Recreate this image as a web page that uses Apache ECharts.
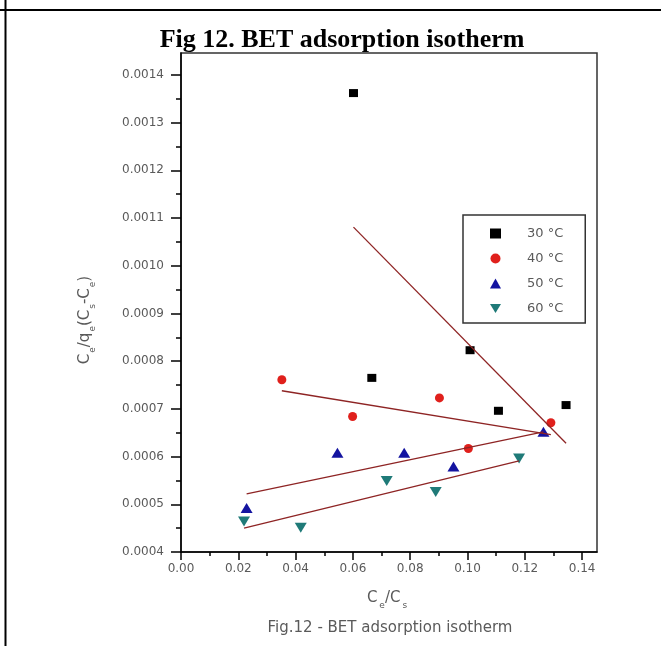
<!DOCTYPE html>
<html>
<head>
<meta charset="utf-8">
<title>Fig 12. BET adsorption isotherm</title>
<script src="https://cdn.jsdelivr.net/npm/echarts@6/dist/echarts.min.js"></script>
<style>
  html, body { margin: 0; padding: 0; background: #fff; }
  #chart { width: 661px; height: 646px; }
</style>
</head>
<body>
<div id="chart"></div>
<script>
// Series names (temperatures)
const seriesNames = ['30 °C', '40 °C', '50 °C', '60 °C'];

// Ce/Cs values for each temperature
const x30 = [0.0602, 0.0666, 0.1009, 0.1108, 0.1344];
const x40 = [0.0352, 0.0599, 0.0902, 0.1003, 0.1291];
const x50 = [0.0229, 0.0546, 0.0779, 0.0951, 0.1265];
const x60 = [0.0220, 0.0418, 0.0718, 0.0889, 0.1180];

// Ce/qe(Cs-Ce) values for each temperature
const y30 = [0.001362, 0.000765, 0.000823, 0.000696, 0.000708];
const y40 = [0.000761, 0.000684, 0.000723, 0.000617, 0.000671];
const y50 = [0.000492, 0.000608, 0.000608, 0.000579, 0.000652];
const y60 = [0.000464, 0.000451, 0.000549, 0.000526, 0.000596];

// Linear BET fit lines: [start, end] as [x, y]
const fit30 = [[0.0602, 0.001081], [0.1344, 0.000628]];
const fit40 = [[0.0352, 0.000738], [0.1291, 0.000646]];
const fit50 = [[0.0229, 0.000522], [0.1265, 0.000652]];
const fit60 = [[0.0220, 0.000450], [0.1180, 0.000591]];

// Axis tick positions
const xMajorTicks = [0, 0.02, 0.04, 0.06, 0.08, 0.10, 0.12, 0.14];
const xMinorTicks = [0.01, 0.03, 0.05, 0.07, 0.09, 0.11, 0.13];
const yMajorTicks = [0.0004, 0.0005, 0.0006, 0.0007, 0.0008, 0.0009, 0.0010, 0.0011, 0.0012, 0.0013, 0.0014];
const yMinorTicks = [0.00045, 0.00055, 0.00065, 0.00075, 0.00085, 0.00095, 0.00105, 0.00115, 0.00125, 0.00135];

const X_MIN = 0, X_MAX = 0.1452;
const Y_MIN = 0.0004, Y_MAX = 0.001446;

function pairs(xs, ys) { return xs.map((v, i) => [v, ys[i]]); }

const labelFont = { color: '#5a5a5a', fontSize: 12, fontFamily: 'DejaVu Sans' };
const downTriangle = 'path://M0,0L12,0L6,10Z';

const chart = echarts.init(document.getElementById('chart'), null, { renderer: 'canvas' });

const markerStyles = [
  { symbol: 'rect', symbolSize: [9, 8], color: '#000000', rotate: 0 },
  { symbol: 'circle', symbolSize: 9, color: '#e0201c', rotate: 0 },
  { symbol: 'triangle', symbolSize: [12, 10], color: '#1414a0', rotate: 0 },
  { symbol: downTriangle, symbolSize: [12, 10], color: '#1f7a78', rotate: 0 }
];
const pointSets = [pairs(x30, y30), pairs(x40, y40), pairs(x50, y50), pairs(x60, y60)];
const fitSets = [fit30, fit40, fit50, fit60];

const scatterSeries = seriesNames.map((name, i) => ({
  name: name,
  type: 'scatter',
  xAxisIndex: 0,
  yAxisIndex: 0,
  symbol: markerStyles[i].symbol,
  symbolSize: markerStyles[i].symbolSize,
  symbolRotate: markerStyles[i].rotate,
  itemStyle: { color: markerStyles[i].color, opacity: 1 },
  data: pointSets[i],
  z: 3
}));

const fitSeries = fitSets.map((d, i) => ({
  name: 'fit ' + seriesNames[i],
  type: 'line',
  xAxisIndex: 0,
  yAxisIndex: 0,
  data: d,
  showSymbol: false,
  symbol: 'none',
  lineStyle: { color: '#8e2424', width: 1.3 },
  silent: true,
  z: 4
}));

const option = {
  backgroundColor: '#ffffff',
  animation: false,
  title: [
    {
      text: 'Fig 12. BET adsorption isotherm',
      left: 337, top: 22, textAlign: 'center',
      textStyle: { fontFamily: 'Liberation Serif', fontWeight: 'bold', fontSize: 26, color: '#000' }
    },
    {
      text: 'Fig.12 - BET adsorption isotherm',
      left: 385, top: 616, textAlign: 'center',
      textStyle: { fontFamily: 'DejaVu Sans', fontWeight: 'normal', fontSize: 15, color: '#5a5a5a' }
    }
  ],
  grid: {
    left: 181, top: 53, right: 64, bottom: 94,
    show: true, borderColor: '#333', borderWidth: 1.5, backgroundColor: 'transparent'
  },
  legend: {
    data: [
      { name: seriesNames[0] },
      { name: seriesNames[1] },
      { name: seriesNames[2] },
      { name: seriesNames[3], icon: downTriangle }
    ],
    orient: 'vertical',
    left: 463, top: 215,
    itemWidth: 11, itemHeight: 10, itemGap: 12,
    padding: [12, 22, 8, 27],
    borderColor: '#333', borderWidth: 1.5,
    textStyle: { color: '#5a5a5a', fontSize: 13, fontFamily: 'DejaVu Sans', padding: [0, 0, 0, 21] },
    selectedMode: false
  },
  xAxis: [
    {
      type: 'value', min: X_MIN, max: X_MAX, interval: 0.02,
      axisLine: { show: true, onZero: false, lineStyle: { color: '#000', width: 1.5 } },
      axisTick: { show: true, length: 8, customValues: xMajorTicks, lineStyle: { color: '#000', width: 1.5 } },
      axisLabel: { customValues: xMajorTicks, margin: 11, formatter: v => v.toFixed(2), ...labelFont },
      splitLine: { show: false }
    },
    {
      type: 'value', min: X_MIN, max: X_MAX, position: 'bottom', gridIndex: 0,
      axisLine: { show: false },
      axisTick: { show: true, length: 4, customValues: xMinorTicks, lineStyle: { color: '#000', width: 1.5 } },
      axisLabel: { show: false },
      splitLine: { show: false }
    }
  ],
  yAxis: [
    {
      type: 'value', min: Y_MIN, max: Y_MAX, interval: 0.0001,
      axisLine: { show: true, onZero: false, lineStyle: { color: '#000', width: 1.5 } },
      axisTick: { show: true, length: 10, customValues: yMajorTicks, lineStyle: { color: '#000', width: 1.5 } },
      axisLabel: { customValues: yMajorTicks, margin: 17, formatter: v => v.toFixed(4), ...labelFont },
      splitLine: { show: false }
    },
    {
      type: 'value', min: Y_MIN, max: Y_MAX, position: 'left', gridIndex: 0,
      axisLine: { show: false },
      axisTick: { show: true, length: 5, customValues: yMinorTicks, lineStyle: { color: '#000', width: 1.5 } },
      axisLabel: { show: false },
      splitLine: { show: false }
    }
  ],
  graphic: [
    // enclosing table rules
    { type: 'line', shape: { x1: 5.5, y1: 0, x2: 5.5, y2: 646 }, style: { stroke: '#000', lineWidth: 2 } },
    { type: 'line', shape: { x1: 0, y1: 10, x2: 661, y2: 10 }, style: { stroke: '#000', lineWidth: 2 } },
    // x-axis title
    {
      type: 'text', x: 387, y: 596,
      style: {
        text: '{m|C}{s|e}{m|/C}{s|s}',
        align: 'center', verticalAlign: 'middle',
        rich: {
          m: { fontSize: 15, fontFamily: 'DejaVu Sans', fill: '#5a5a5a', lineHeight: 20, verticalAlign: 'bottom' },
          s: { fontSize: 9, fontFamily: 'DejaVu Sans', fill: '#5a5a5a', lineHeight: 20, verticalAlign: 'bottom', padding: [0, 0, -4, 2] }
        }
      }
    },
    // y-axis title
    {
      type: 'text', x: 83, y: 320, rotation: Math.PI / 2,
      style: {
        text: '{m|C}{s|e}{m|/q}{s|e}{m|(C}{s|s}{m|-C}{s|e}{m|)}',
        align: 'center', verticalAlign: 'middle',
        rich: {
          m: { fontSize: 15, fontFamily: 'DejaVu Sans', fill: '#5a5a5a', lineHeight: 20, verticalAlign: 'bottom' },
          s: { fontSize: 9, fontFamily: 'DejaVu Sans', fill: '#5a5a5a', lineHeight: 20, verticalAlign: 'bottom', padding: [0, 0, -4, 1] }
        }
      }
    }
  ],
  series: scatterSeries.concat(fitSeries)
};

chart.setOption(option);
</script>
</body>
</html>
